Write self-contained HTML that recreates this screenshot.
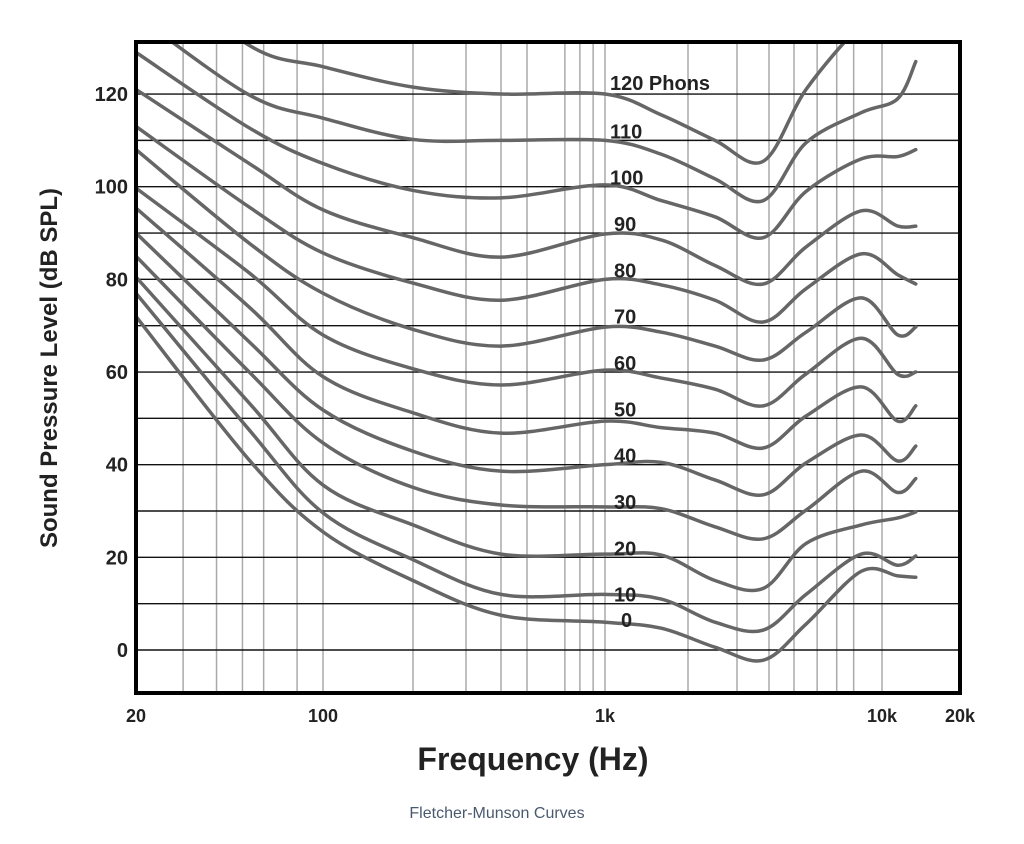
<!DOCTYPE html>
<html><head><meta charset="utf-8"><style>
body{margin:0;background:#fff;}
svg{display:block;font-family:"Liberation Sans",Arial,sans-serif;}
</style></head><body>
<svg id="chart" width="1024" height="844" viewBox="0 0 1024 844">
<defs><clipPath id="plotclip"><rect x="136" y="42" width="824" height="651"/></clipPath></defs>
<g id="grid"></g>
<g id="curves" clip-path="url(#plotclip)"></g>
<g id="labels"></g>
<rect x="136" y="42" width="824" height="651" fill="none" stroke="#000" stroke-width="4"/>
<g id="yticks"></g>
<g id="xticks"></g>
<text x="533" y="770" text-anchor="middle" font-size="32" font-weight="bold" fill="#222">Frequency (Hz)</text>
<text transform="translate(57,368) rotate(-90)" text-anchor="middle" font-size="24" font-weight="bold" fill="#222">Sound Pressure Level (dB SPL)</text>
<text x="497" y="818" text-anchor="middle" font-size="16" fill="#4a5a6e">Fletcher-Munson Curves</text>
</svg>
<script>
const freqs = [20, 53, 100, 200, 400, 1000, 1600, 2500, 3800, 5500, 8500, 11500, 13500];
const phon0   = [72, 41, 25.5, 15, 7.5, 6, 4.7, 0.6, -2.2, 5.6, 17, 16, 15.7];
const phon10  = [77, 47.5, 29.6, 19.5, 12, 12, 11, 6, 4.3, 12, 20.7, 18.3, 20.3];
const phon20  = [80.5, 53.3, 35.6, 27, 20.7, 20.7, 20.5, 15, 13.3, 23, 27, 28.5, 29.8];
const phon30  = [85, 60, 44.7, 35.1, 31.3, 30.9, 30.5, 26.6, 24, 30.2, 38.6, 34, 37];
const phon40  = [90, 66.5, 51.8, 42.9, 38.6, 40, 40.5, 36.7, 33.5, 40.4, 46.4, 40.8, 44];
const phon50  = [95.4, 74, 59, 51.2, 46.8, 49.4, 48, 46.8, 43.6, 50.5, 56.8, 49.4, 52.7];
const phon60  = [99.7, 81.4, 68, 60.7, 57.2, 60.4, 58.7, 56.3, 52.7, 59.6, 67.3, 59.5, 60];
const phon70  = [108, 87.8, 77, 69.2, 65.6, 69.7, 68.6, 65.6, 62.6, 68.6, 76, 68, 69.7];
const phon80  = [113, 95.6, 85.7, 79.2, 75.5, 80, 78.8, 75.5, 70.8, 78, 85.5, 81, 79];
const phon90  = [121, 105, 95, 89, 84.8, 89.8, 88.5, 83, 79, 87, 94.8, 91.5, 91.5];
const phon100 = [129, 112.7, 105, 99.2, 97.6, 100.4, 97, 93.5, 89, 99, 106, 106.5, 108];
const phon110 = [137, 119.8, 114.8, 110.2, 110, 110, 107, 101.7, 97, 109.5, 116, 119, 127];
const phon120 = [150, 130.5, 125.9, 121.5, 120, 120, 115.5, 110, 105.5, 121, 135, 140, 145];
const phonLevels = [0, 10, 20, 30, 40, 50, 60, 70, 80, 90, 100, 110, 120];
const phonLabels = ["0", "10", "20", "30", "40", "50", "60", "70", "80", "90", "100", "110", "120 Phons"];
const yTicks = [0, 20, 40, 60, 80, 100, 120];
const yGrid = [0, 10, 20, 30, 40, 50, 60, 70, 80, 90, 100, 110, 120];
const xTickFreqs = [20, 100, 1000, 10000, 20000];
const xTickLabels = ["20", "100", "1k", "10k", "20k"];
const xGridFreqs = [30, 40, 50, 60, 80, 100, 200, 300, 400, 500, 700, 800, 900, 1000, 2000, 3000, 4000, 5000, 6000, 7000, 8000, 10000];

const series = [phon0, phon10, phon20, phon30, phon40, phon50, phon60, phon70, phon80, phon90, phon100, phon110, phon120];
const NS = "http://www.w3.org/2000/svg";
const axF = [20, 100, 200, 300, 400, 500, 1000, 2000, 3000, 4000, 5000, 10000, 20000];
const axX = [136, 323, 413, 466, 501, 527, 605, 688, 737, 769, 794, 882, 960];
function xScale(f){
  const l = Math.log10(f);
  let i = 0;
  while (i < axF.length - 2 && l > Math.log10(axF[i+1])) i++;
  const a = Math.log10(axF[i]), b = Math.log10(axF[i+1]);
  return axX[i] + (l - a) / (b - a) * (axX[i+1] - axX[i]);
}
function yScale(v){ return 650 - 4.633 * v; }
function mk(tag, attrs, parent){
  const e = document.createElementNS(NS, tag);
  for (const k in attrs) e.setAttribute(k, attrs[k]);
  parent.appendChild(e);
  return e;
}
const grid = document.getElementById('grid');
xGridFreqs.forEach(f => {
  const x = xScale(f);
  const l = mk('line', {x1:x, x2:x, y1:42, y2:693, stroke:'#aaa', 'stroke-width':1.5}, grid);
  
  
});
yGrid.forEach(v => {
  const y = yScale(v);
  const l = mk('line', {x1:136, x2:960, y1:y, y2:y, stroke:'#111', 'stroke-width':1.4}, grid);
  
  
});
function pathFor(vals){
  const p = freqs.map((f, i) => [xScale(f), yScale(vals[i])]);
  let d = 'M' + p[0][0] + ',' + p[0][1];
  for (let i = 0; i < p.length - 1; i++){
    const p0 = p[Math.max(0, i-1)], p1 = p[i], p2 = p[i+1], p3 = p[Math.min(p.length-1, i+2)];
    const c1 = [p1[0] + (p2[0]-p0[0])/6, p1[1] + (p2[1]-p0[1])/6];
    const c2 = [p2[0] - (p3[0]-p1[0])/6, p2[1] - (p3[1]-p1[1])/6];
    d += ' C' + c1[0] + ',' + c1[1] + ' ' + c2[0] + ',' + c2[1] + ' ' + p2[0] + ',' + p2[1];
  }
  return d;
}
const cg = document.getElementById('curves');
series.forEach((vals, i) => {
  const p = mk('path', {d: pathFor(vals), fill:'none', stroke:'#666', 'stroke-width':3.5, 'stroke-linecap':'round'}, cg);
  
  
});
const lg = document.getElementById('labels');
phonLevels.forEach((lv, i) => {
  const x = lv === 0 ? 621 : (lv >= 100 ? 610 : 614);
  const t = mk('text', {x: x, y: yScale(lv) - 2 + (lv === 0 ? -21 : 0) + (lv === 120 ? -2 : 0), 'font-size':20, 'font-weight':'bold', fill:'#222'}, lg);
  t.textContent = phonLabels[i];
  
  
});
const yt = document.getElementById('yticks');
yTicks.forEach(v => {
  const t = mk('text', {x:128, y: yScale(v) + 7, 'text-anchor':'end', 'font-size':20, 'font-weight':'bold', fill:'#222'}, yt);
  t.textContent = String(v);
  
  
});
const xt = document.getElementById('xticks');
xTickFreqs.forEach((f, i) => {
  const t = mk('text', {x: xScale(f), y: 722, 'text-anchor':'middle', 'font-size':18, 'font-weight':'bold', fill:'#222'}, xt);
  t.textContent = xTickLabels[i];
  
  
});
</script>
</body></html>
